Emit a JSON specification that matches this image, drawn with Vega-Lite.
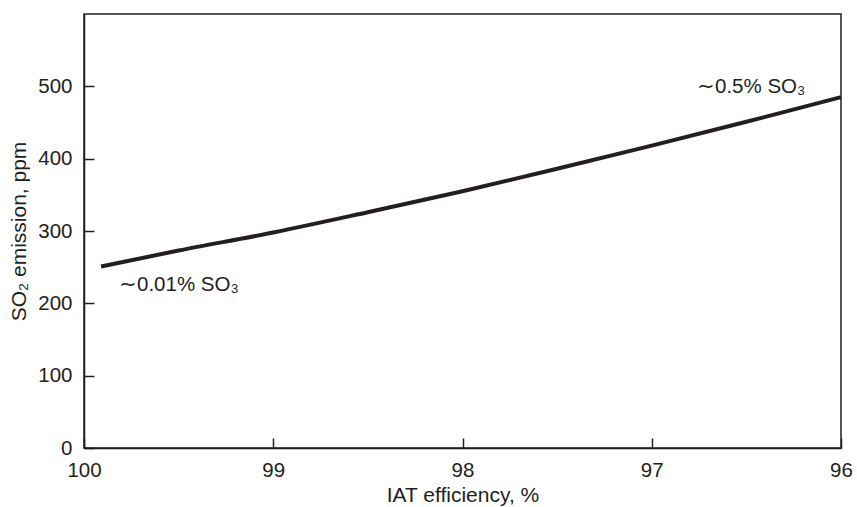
{
  "$schema": "https://vega.github.io/schema/vega-lite/v6.json",
  "autosize": "none",
  "width": 757,
  "height": 434,
  "padding": {"left": 84, "top": 14, "right": 16, "bottom": 59},
  "background": "white",
  "config": {
    "view": {"stroke": "#231f20", "strokeWidth": 1.5},
    "font": "Liberation Sans",
    "axis": {
      "domainColor": "#231f20",
      "domainWidth": 1.5,
      "tickColor": "#231f20",
      "tickWidth": 1.5,
      "grid": false,
      "labelFont": "Liberation Sans",
      "labelFontSize": 20.5,
      "labelColor": "#231f20",
      "titleFont": "Liberation Sans",
      "titleFontSize": 21,
      "titleFontWeight": "normal",
      "titleColor": "#231f20"
    }
  },
  "layer": [
    {
      "data": {
        "values": [
          {"efficiency": 99.91, "so2": 251},
          {"efficiency": 99.5, "so2": 273},
          {"efficiency": 99.0, "so2": 298},
          {"efficiency": 98.5, "so2": 326},
          {"efficiency": 98.0, "so2": 355},
          {"efficiency": 97.5, "so2": 386},
          {"efficiency": 97.0, "so2": 418},
          {"efficiency": 96.5, "so2": 451},
          {"efficiency": 96.0, "so2": 485}
        ]
      },
      "mark": {"type": "line", "color": "#231f20", "strokeWidth": 4, "interpolate": "monotone", "strokeCap": "butt"},
      "encoding": {
        "x": {
          "field": "efficiency",
          "type": "quantitative",
          "scale": {"domain": [96, 100], "reverse": true, "nice": false},
          "axis": {
            "title": "IAT efficiency, %",
            "values": [96, 97, 98, 99, 100],
            "format": "d",
            "tickSize": -10,
            "labelPadding": 22,
            "titlePadding": 4,
            "labelFlush": false
          }
        },
        "y": {
          "field": "so2",
          "type": "quantitative",
          "scale": {"domain": [0, 600], "nice": false},
          "axis": {
            "title": "SO₂ emission, ppm",
            "values": [0, 100, 200, 300, 400, 500],
            "format": "d",
            "tickSize": -10,
            "labelPadding": 22,
            "titlePadding": 8,
            "labelFlush": false
          }
        }
      }
    },
    {
      "data": {
        "values": [
          {"efficiency": 99.815, "so2": 225, "label": "∼0.01% SO₃"},
          {"efficiency": 96.761, "so2": 499, "label": "∼0.5% SO₃"}
        ]
      },
      "mark": {"type": "text", "align": "left", "baseline": "middle", "fontSize": 20.5, "font": "Liberation Sans", "color": "#231f20"},
      "encoding": {
        "x": {"field": "efficiency", "type": "quantitative"},
        "y": {"field": "so2", "type": "quantitative"},
        "text": {"field": "label"}
      }
    }
  ]
}
